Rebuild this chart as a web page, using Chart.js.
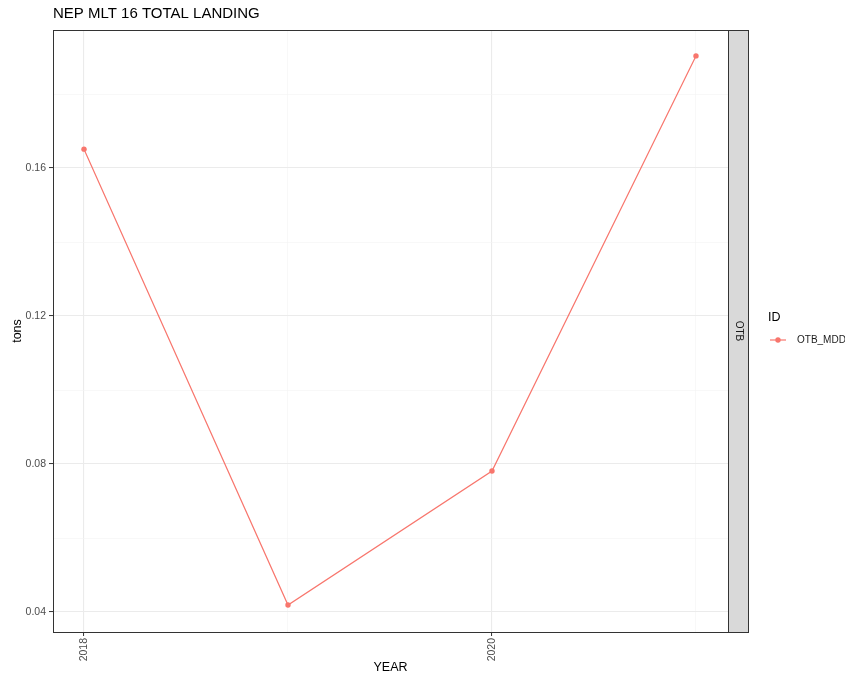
<!DOCTYPE html>
<html>
<head>
<meta charset="utf-8">
<script src="https://cdn.jsdelivr.net/npm/chart.js@4.4.1/dist/chart.umd.min.js"></script>
<style>
  html, body { margin: 0; padding: 0; background: #fff; }
  #wrap { width: 845px; height: 680px; }
</style>
</head>
<body>
<div id="wrap"><canvas id="landingChart" width="845" height="680"></canvas></div>
<script>
// Chart data
const years = [2018, 2019, 2020, 2021];
const otbMdd = [0.1651, 0.0419, 0.0781, 0.1903];
const yearLabels = [2018, 2020];
const yGridValues = [0.04, 0.06, 0.08, 0.10, 0.12, 0.14, 0.16, 0.18];
const yLabels = [0.04, 0.08, 0.12, 0.16];
const seriesName = 'OTB_MDD';
const stripLabel = 'OTB';
const legendTitle = 'ID';
const chartTitle = 'NEP MLT 16 TOTAL LANDING';

const FONT = '"Liberation Sans", Arial, sans-serif';
const RED = '#F8766D';

function isYLabel(v) {
    return yLabels.some(l => Math.abs(l - v) < 1e-6);
}

// Draws the panel border, facet strip, titles and legend the ggplot way
const decorPlugin = {
    id: 'decor',
    afterDraw(chart) {
        const ctx = chart.ctx;
        const a = chart.chartArea;
        ctx.save();

        // panel border
        ctx.strokeStyle = '#333333';
        ctx.lineWidth = 1;
        ctx.strokeRect(a.left + 0.5, a.top + 0.5, a.right - a.left, a.bottom - a.top);

        // facet strip on the right
        const sx = a.right + 0.5, sw = 20;
        ctx.fillStyle = '#D9D9D9';
        ctx.fillRect(sx, a.top + 0.5, sw, a.bottom - a.top);
        ctx.strokeRect(sx, a.top + 0.5, sw, a.bottom - a.top);
        ctx.translate(sx + sw / 2, (a.top + a.bottom) / 2);
        ctx.rotate(Math.PI / 2);
        ctx.fillStyle = '#1A1A1A';
        ctx.font = '10px ' + FONT;
        ctx.textAlign = 'center';
        ctx.textBaseline = 'middle';
        ctx.fillText(stripLabel, 0, 0);
        ctx.setTransform(1, 0, 0, 1, 0, 0);

        // title
        ctx.fillStyle = '#000';
        ctx.font = '15px ' + FONT;
        ctx.textAlign = 'left';
        ctx.textBaseline = 'middle';
        ctx.fillText(chartTitle, a.left, 14);

        // axis titles
        ctx.font = '12.5px ' + FONT;
        ctx.textAlign = 'center';
        ctx.fillText('YEAR', (a.left + a.right) / 2, 668);
        ctx.save();
        ctx.translate(18, (a.top + a.bottom) / 2);
        ctx.rotate(-Math.PI / 2);
        ctx.fillText('tons', 0, 0);
        ctx.restore();

        // legend
        ctx.textAlign = 'left';
        ctx.font = '12.5px ' + FONT;
        ctx.fillText(legendTitle, 768, 318);
        ctx.strokeStyle = RED;
        ctx.lineWidth = 1.2;
        ctx.beginPath();
        ctx.moveTo(770, 340);
        ctx.lineTo(786, 340);
        ctx.stroke();
        ctx.fillStyle = RED;
        ctx.beginPath();
        ctx.arc(778, 340, 2.7, 0, Math.PI * 2);
        ctx.fill();
        ctx.fillStyle = '#1A1A1A';
        ctx.font = '10px ' + FONT;
        ctx.fillText(seriesName, 797, 340);

        ctx.restore();
    }
};

const ctx = document.getElementById('landingChart').getContext('2d');
const landingChart = new Chart(ctx, {
    type: 'line',
    data: {
        datasets: [{
            label: seriesName,
            data: years.map((y, i) => ({ x: y, y: otbMdd[i] })),
            borderColor: RED,
            backgroundColor: RED,
            borderWidth: 1.2,
            pointRadius: 2.7,
            pointHoverRadius: 2.7,
            pointBorderWidth: 0,
            tension: 0
        }]
    },
    options: {
        responsive: false,
        animation: false,
        events: [],
        layout: {
            padding: { top: 30, right: 117, bottom: 0, left: 0 }
        },
        plugins: {
            legend: { display: false },
            title: { display: false },
            tooltip: { enabled: false }
        },
        scales: {
            x: {
                type: 'linear',
                min: 2017.848,
                max: 2021.157,
                afterFit(scale) { scale.height = 48; },
                afterBuildTicks(scale) {
                    scale.ticks = years.map(v => ({ value: v }));
                },
                border: { display: false },
                grid: {
                    drawTicks: true,
                    tickLength: 4,
                    color: c => yearLabels.includes(c.tick.value) ? '#EBEBEB' : '#F4F4F4',
                    lineWidth: c => yearLabels.includes(c.tick.value) ? 1.1 : 0.6,
                    tickColor: c => yearLabels.includes(c.tick.value) ? '#333333' : 'rgba(0,0,0,0)',
                    tickWidth: 1
                },
                ticks: {
                    minRotation: 90,
                    maxRotation: 90,
                    padding: 2,
                    autoSkip: false,
                    color: '#4D4D4D',
                    font: { family: FONT, size: 10.5 },
                    callback: v => yearLabels.includes(v) ? String(v) : ''
                }
            },
            y: {
                type: 'linear',
                min: 0.0346,
                max: 0.1973,
                afterFit(scale) { scale.width = 53; },
                afterBuildTicks(scale) {
                    scale.ticks = yGridValues.map(v => ({ value: v }));
                },
                border: { display: false },
                grid: {
                    drawTicks: true,
                    tickLength: 4,
                    color: c => isYLabel(c.tick.value) ? '#EBEBEB' : '#F4F4F4',
                    lineWidth: c => isYLabel(c.tick.value) ? 1.1 : 0.6,
                    tickColor: c => isYLabel(c.tick.value) ? '#333333' : 'rgba(0,0,0,0)',
                    tickWidth: 1
                },
                ticks: {
                    padding: 3,
                    autoSkip: false,
                    color: '#4D4D4D',
                    font: { family: FONT, size: 10.5 },
                    callback: v => isYLabel(v) ? v.toFixed(2) : ''
                }
            }
        }
    },
    plugins: [decorPlugin]
});
</script>
</body>
</html>
